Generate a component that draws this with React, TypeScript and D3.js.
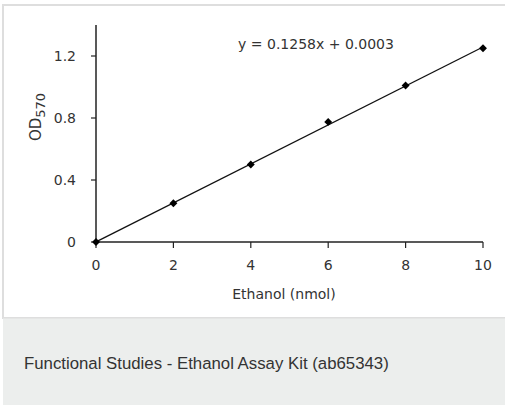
import React from "react";
import * as d3 from "d3";

const xValues = [0, 2, 4, 6, 8, 10];
const yValues = [0, 0.25, 0.5, 0.775, 1.01, 1.25];
const xTicks = [0, 2, 4, 6, 8, 10];
const yTicks = [0, 0.4, 0.8, 1.2];
const slope = 0.1258;
const intercept = 0.0003;
const equationLabel = "y = 0.1258x + 0.0003";
const xTitle = "Ethanol (nmol)";
const caption = "Functional Studies - Ethanol Assay Kit (ab65343)";

export default function App() {
  const W = 505, H = 405;
  const x = d3.scaleLinear().domain([0, 10]).range([96, 483]);
  const y = d3.scaleLinear().domain([0, 1.4]).range([242, 25]);
  const line = d3.line<number>().x((d) => x(d)).y((d) => y(slope * d + intercept));
  const diamond = d3.symbol().type(d3.symbolDiamond2).size(40)();
  const font = "'DejaVu Sans', sans-serif";
  const tickColor = "#333";
  return (
    <div style={{ position: "fixed", left: 0, top: 0, width: W, height: H, background: "#fff" }}>
      <svg width={W} height={H} style={{ display: "block" }}>
        <rect x={0} y={0} width={W} height={H} fill="#fff" />
        <rect x={3} y={5} width={W} height={313} fill="#fff" stroke="#dedede" strokeWidth={2} />
        <rect x={3} y={318} width={W} height={H - 318} fill="#eceeed" />
        <line x1={3} x2={W} y1={318} y2={318} stroke="#dedede" strokeWidth={1} />
        <line x1={x(0)} x2={x(0)} y1={y(1.4)} y2={y(0)} stroke="#222" strokeWidth={1.5} />
        <line x1={x(0)} x2={x(10)} y1={y(0)} y2={y(0)} stroke="#222" strokeWidth={1.5} />
        {yTicks.map((t) => (
          <g key={"y" + t}>
            <line x1={x(0) - 5} x2={x(0)} y1={y(t)} y2={y(t)} stroke="#222" strokeWidth={1.2} />
            <text x={x(0) - 20} y={y(t)} dy="0.35em" textAnchor="end" fontFamily={font} fontSize={14} fill={tickColor}>
              {t === 0 ? "0" : t.toFixed(1)}
            </text>
          </g>
        ))}
        {xTicks.map((t) => (
          <g key={"x" + t}>
            <line x1={x(t)} x2={x(t)} y1={y(0)} y2={y(0) + 6} stroke="#222" strokeWidth={1.2} />
            <text x={x(t)} y={y(0) + 28} textAnchor="middle" fontFamily={font} fontSize={14} fill={tickColor}>
              {t}
            </text>
          </g>
        ))}
        <text x={284} y={299} textAnchor="middle" fontFamily={font} fontSize={14} fill={tickColor}>
          {xTitle}
        </text>
        <text transform="translate(41,117) rotate(-90)" textAnchor="middle" fontFamily={font} fontSize={15} fill={tickColor}>
          OD<tspan dy="4" fontSize={13}>570</tspan>
        </text>
        <text x={316} y={49} textAnchor="middle" fontFamily={font} fontSize={14} fill={tickColor}>
          {equationLabel}
        </text>
        <path d={line([0, 10]) || ""} fill="none" stroke="#111" strokeWidth={1.3} />
        {xValues.map((v, i) => (
          <path key={i} d={diamond || ""} transform={`translate(${x(v)},${y(yValues[i])})`} fill="#000" />
        ))}
        <text x={24} y={369} fontFamily="'Liberation Sans', Arial, sans-serif" fontSize={16.8} fill="#333">
          {caption}
        </text>
      </svg>
    </div>
  );
}
